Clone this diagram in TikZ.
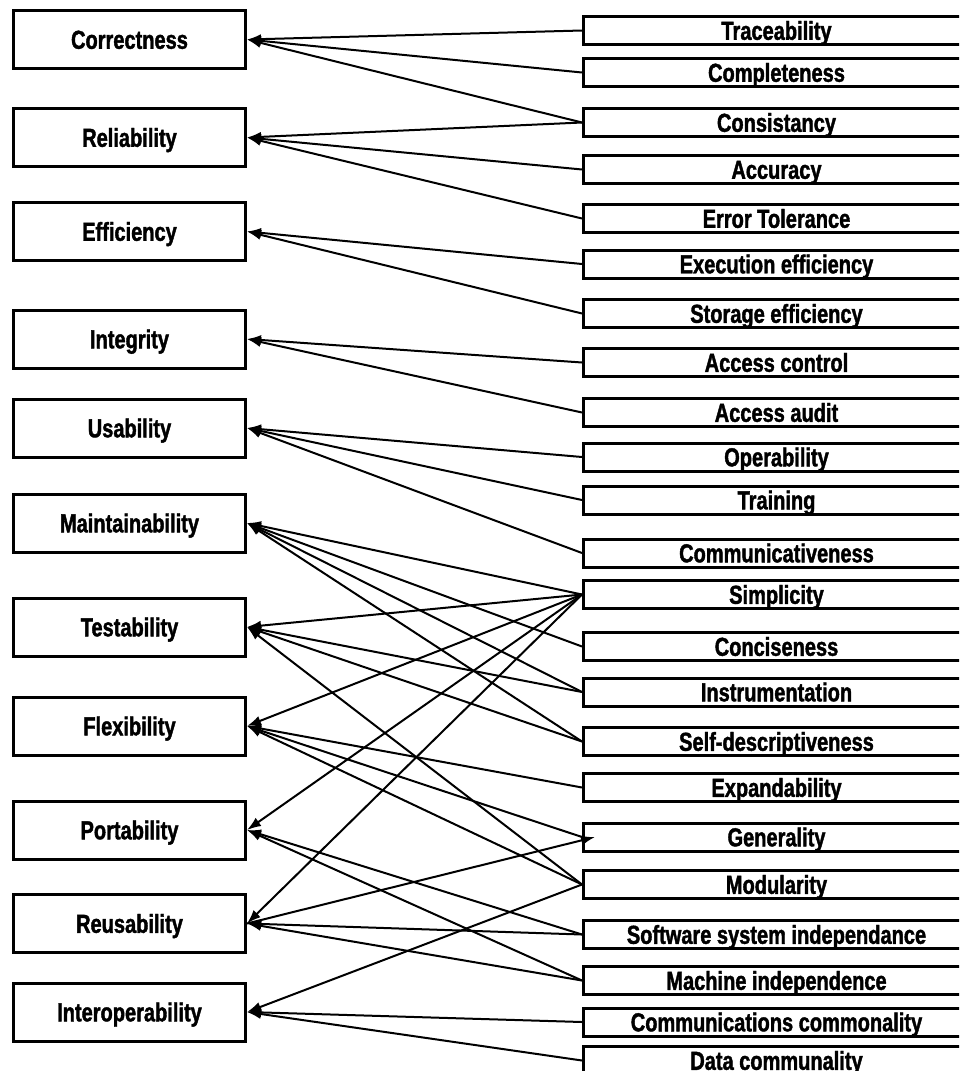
\documentclass[tikz,border=0pt]{standalone}
\usepackage{fontspec}
\setmainfont{Liberation Sans}[FakeStretch=0.77, BoldFeatures={FakeBold=1.5}]
\usetikzlibrary{arrows.meta}

\tikzset{
  labelfont/.style={font=\bfseries\fontsize{26}{28}\selectfont,
    text height=18.6pt, text depth=0pt},
  quality/.style={draw, line width=3pt, minimum width=232pt, minimum height=58pt,
    inner sep=0pt, labelfont},
  criterion/.style={draw, line width=3pt, minimum width=386pt, minimum height=28pt,
    inner sep=0pt, labelfont},
  link/.style={line width=2pt, -{Latex[length=14pt,width=10pt]}},
}

\begin{document}
\begin{tikzpicture}[x=1pt,y=-1pt]
  \useasboundingbox (0,0) rectangle (959,1071);
  \clip (0,0) rectangle (959,1071);

  % quality factors
  \node[quality] (corr)    at (129.5,  39.5) {Correctness};
  \node[quality] (rel)     at (129.5, 137.5) {Reliability};
  \node[quality] (eff)     at (129.5, 231.5) {Efficiency};
  \node[quality] (integ)   at (129.5, 339)   {Integrity};
  \node[quality] (usab)    at (129.5, 428)   {Usability};
  \node[quality] (maint)   at (129.5, 523)   {Maintainability};
  \node[quality] (test)    at (129.5, 627)   {Testability};
  \node[quality] (flex)    at (129.5, 726)   {Flexibility};
  \node[quality] (port)    at (129.5, 830)   {Portability};
  \node[quality] (reuse)   at (129.5, 923.5) {Reusability};
  \node[quality] (interop) at (129.5, 1012)  {Interoperability};

  % quality criteria
  \node[criterion] (trace)  at (776.5,   30.5) {Traceability};
  \node[criterion] (compl)  at (776.5,   72.5) {Completeness};
  \node[criterion] (consis) at (776.5,  122.5) {Consistancy};
  \node[criterion] (accur)  at (776.5,  169.5) {Accuracy};
  \node[criterion] (errtol) at (776.5,  218.5) {Error Tolerance};
  \node[criterion] (exeff)  at (776.5,  264)   {Execution efficiency};
  \node[criterion] (stoeff) at (776.5,  313.5) {Storage efficiency};
  \node[criterion] (acctl)  at (776.5,  362.5) {Access control};
  \node[criterion] (accaud) at (776.5,  412.5) {Access audit};
  \node[criterion] (oper)   at (776.5,  457)   {Operability};
  \node[criterion] (train)  at (776.5,  500)   {Training};
  \node[criterion] (comm)   at (776.5,  553)   {Communicativeness};
  \node[criterion] (simp)   at (776.5,  594.5) {Simplicity};
  \node[criterion] (conc)   at (776.5,  646.5) {Conciseness};
  \node[criterion] (instr)  at (776.5,  692)   {Instrumentation};
  \node[criterion] (selfd)  at (776.5,  741.5) {Self-descriptiveness};
  \node[criterion] (expand) at (776.5,  787.5) {Expandability};
  \node[criterion] (gen)    at (776.5,  837)   {Generality};
  \node[criterion] (modu)   at (776.5,  884.5) {Modularity};
  \node[criterion] (swind)  at (776.5,  934.5) {Software system independance};
  \node[criterion] (mchind) at (776.5,  980.5) {Machine independence};
  \node[criterion] (commc)  at (776.5, 1022)   {Communications commonality};
  \node[criterion] (datac)  at (776.5, 1060.5) {Data communality};

  % criteria feeding each factor
  \foreach \src in {trace,compl,consis} \draw[link] (\src.west) -- (corr.east);
  \foreach \src in {consis,accur,errtol} \draw[link] (\src.west) -- (rel.east);
  \foreach \src in {exeff,stoeff} \draw[link] (\src.west) -- (eff.east);
  \foreach \src in {acctl,accaud} \draw[link] (\src.west) -- (integ.east);
  \foreach \src in {oper,train,comm} \draw[link] (\src.west) -- (usab.east);
  \foreach \src in {simp,conc,instr,selfd} \draw[link] (\src.west) -- (maint.east);
  \foreach \src in {simp,instr,selfd,modu} \draw[link] (\src.west) -- (test.east);
  \foreach \src in {simp,expand,gen,modu} \draw[link] (\src.west) -- (flex.east);
  \foreach \src in {simp,swind,mchind} \draw[link] (\src.west) -- (port.east);
  \foreach \src in {simp,swind,mchind} \draw[link] (\src.west) -- (reuse.east);
  \foreach \src in {modu,commc,datac} \draw[link] (\src.west) -- (interop.east);
  % the generality link points the other way
  \draw[link] (reuse.east) -- ([xshift=13pt]gen.west);
\end{tikzpicture}
\end{document}
